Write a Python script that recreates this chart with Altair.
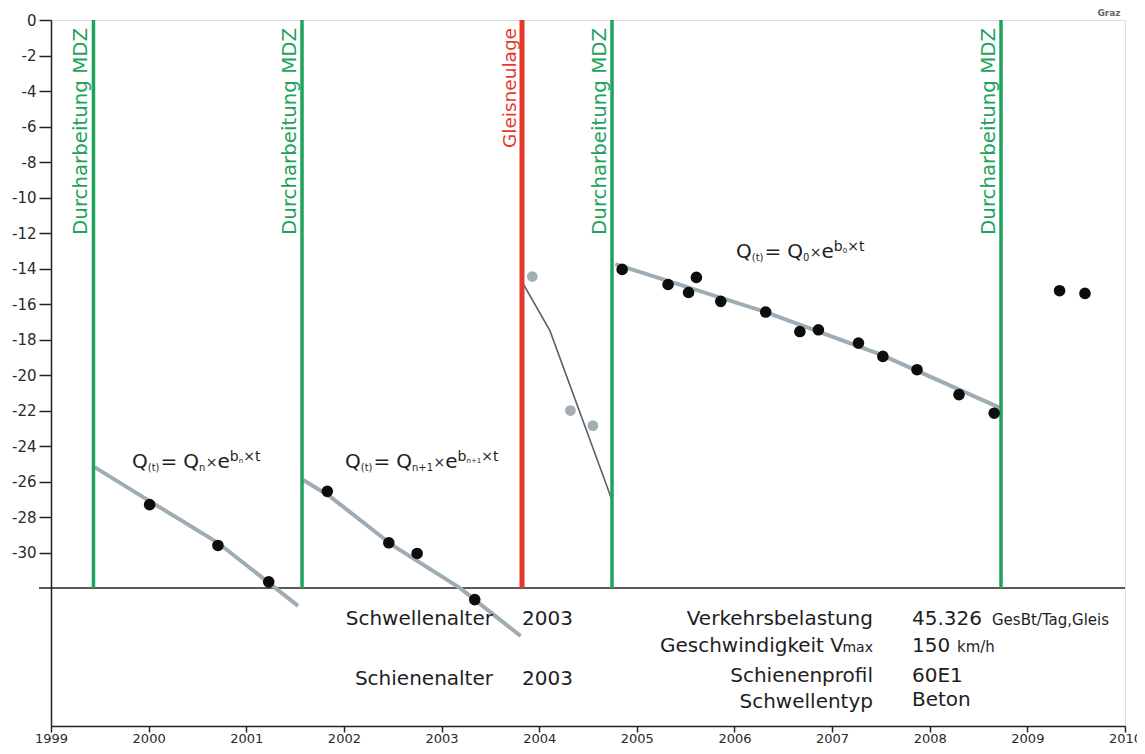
import altair as alt
import pandas as pd

# ---------------- data ----------------
event_years = [1999.435, 2001.571, 2003.824, 2004.746, 2008.730]
event_kinds = ["MDZ", "MDZ", "neu", "MDZ", "MDZ"]
event_labels = ["Durcharbeitung MDZ", "Durcharbeitung MDZ", "Gleisneulage",
                "Durcharbeitung MDZ", "Durcharbeitung MDZ"]

p1_years = [2000.01, 2000.71, 2001.23]
p1_vals = [-27.3, -29.6, -31.65]
f1_years = [1999.45, 2000.01, 2000.71, 2001.53]
f1_vals = [-25.2, -27.1, -29.45, -33.0]

p2_years = [2001.83, 2002.46, 2002.75, 2003.34]
p2_vals = [-26.55, -29.45, -30.05, -32.65]
f2_years = [2001.58, 2001.86, 2002.50, 2003.19, 2003.81]
f2_vals = [-25.9, -26.85, -29.6, -32.0, -34.7]

p3_years = [2003.93, 2004.32, 2004.55]
p3_vals = [-14.45, -22.0, -22.85]
f3_years = [2003.83, 2004.11, 2004.74]
f3_vals = [-14.8, -17.5, -26.95]

p4_years = [2004.85, 2005.32, 2005.53, 2005.61, 2005.86, 2006.32, 2006.67,
            2006.86, 2007.27, 2007.52, 2007.87, 2008.30, 2008.66]
p4_vals = [-14.05, -14.9, -15.35, -14.5, -15.85, -16.45, -17.55,
           -17.45, -18.2, -18.95, -19.7, -21.1, -22.15]
f4_years = [2004.78, 2005.55, 2006.32, 2007.50, 2008.72]
f4_vals = [-13.75, -15.1, -16.45, -18.85, -21.85]

p5_years = [2009.33, 2009.59]
p5_vals = [-15.25, -15.4]

y_ticks = list(range(0, -31, -2))
x_ticks = list(range(1999, 2011))

info_labels = ["Verkehrsbelastung", "Geschwindigkeit V", "Schienenprofil", "Schwellentyp"]
info_values = ["45.326", "150", "60E1", "Beton"]

# ---------------- layout ----------------
W, H = 1074, 706
X_DOM = [1999, 2010]
Y_DOM = [-39.77, 0]
PX_YEAR = W / (X_DOM[1] - X_DOM[0])
PX_UNIT = H / (Y_DOM[1] - Y_DOM[0])
GREEN = "#1ea35a"
RED = "#e5392b"
FIT = "#9eacb4"
INK = "#1e1e1e"
FONT = "DejaVu Sans"

xs = alt.Scale(domain=X_DOM, nice=False, zero=False)
ys = alt.Scale(domain=Y_DOM, nice=False, zero=False)
x_axis = alt.Axis(values=x_ticks, labelExpr="'' + datum.value", labelFontSize=13,
                  labelColor="#2a2a2a", tickSize=6, tickColor="#222", tickWidth=1.5,
                  domainColor="#222", domainWidth=1.5, labelPadding=0, grid=False,
                  title=None, labelFlush=False, labelOverlap=False, labelFont=FONT)
y_axis = alt.Axis(values=y_ticks, labelExpr="'' + datum.value", labelFontSize=15,
                  labelColor="#2a2a2a", tickSize=12, tickColor="#222", tickWidth=1.5,
                  domainColor="#222", domainWidth=1.5, labelPadding=3, grid=False,
                  title=None, labelFlush=False, labelOverlap=False, labelFont=FONT)


def X(field="x"):
    return alt.X(f"{field}:Q", scale=xs, axis=x_axis)


def Y(field="y"):
    return alt.Y(f"{field}:Q", scale=ys, axis=y_axis)


def df(xv, yv):
    return pd.DataFrame({"x": xv, "y": yv})


# vertical event lines
ev = pd.DataFrame({"x": event_years, "kind": event_kinds, "label": event_labels})
ev["xl"] = ev["x"] - 6 / PX_YEAR   # label baseline a few pixels left of its line
kind_color = alt.Color("kind:N", scale=alt.Scale(domain=["MDZ", "neu"], range=[GREEN, RED]), legend=None)
rules = alt.Chart(ev).mark_rule().encode(
    x=X(), y=alt.datum(0), y2=alt.datum(-32), color=kind_color,
    strokeWidth=alt.StrokeWidth("kind:N", scale=alt.Scale(domain=["MDZ", "neu"], range=[3.5, 5]), legend=None),
)
ev_text = alt.Chart(ev).mark_text(angle=270, align="right", baseline="alphabetic", font=FONT).encode(
    x=X("xl"), y=alt.datum(-0.45), text="label:N", color=kind_color,
    size=alt.Size("kind:N", scale=alt.Scale(domain=["MDZ", "neu"], range=[19.8, 18.5]), legend=None),
)

# separator line of the info panel
sep = alt.Chart(pd.DataFrame({"y": [-32]})).mark_rule(color="#222", strokeWidth=1.5).encode(
    y=Y(), x=alt.value(-12), x2=alt.value(W)
)

# fitted curves
fit_thick = alt.Chart(pd.concat([
    df(f1_years, f1_vals).assign(seg="a"),
    df(f2_years, f2_vals).assign(seg="b"),
    df(f4_years, f4_vals).assign(seg="d"),
])).mark_line(color=FIT, strokeWidth=4).encode(x=X(), y=Y(), detail="seg:N")
fit_thin = alt.Chart(df(f3_years, f3_vals)).mark_line(color="#56646c", strokeWidth=1.6).encode(x=X(), y=Y())

# measured points
black_pts = alt.Chart(pd.concat([
    df(p1_years, p1_vals), df(p2_years, p2_vals), df(p4_years, p4_vals), df(p5_years, p5_vals)
])).mark_circle(color="#0d0d0d", size=135, opacity=1).encode(x=X(), y=Y())
grey_pts = alt.Chart(df(p3_years, p3_vals)).mark_circle(color="#a3adb4", size=115, opacity=1).encode(x=X(), y=Y())


# ---------------- text annotations ----------------
def at(px, py):
    """page-pixel position of the reference -> data coordinates"""
    return X_DOM[0] + (px - 51) / PX_YEAR, -(py - 20) / PX_UNIT


right_rows, left_rows = [], []


def put(rows, text, px, py, size):
    xv, yv = at(px, py)
    rows.append({"x": xv, "y": yv, "text": text, "size": size})


put(right_rows, "Schwellenalter", 493, 625, 20)
put(right_rows, "Schienenalter", 493, 685, 20)
put(left_rows, "2003", 522, 625, 20)
put(left_rows, "2003", 522, 685, 20)

label_y = [624.5, 651.5, 682, 708]
for lab, py in zip(info_labels, label_y):
    put(right_rows, lab, 844 if lab.endswith(" V") else 873, py, 20)
put(right_rows, "max", 873, 651.5, 14)
for val, py in zip(info_values, [624.5, 651.5, 682, 706]):
    put(left_rows, val, 912, py, 20)
put(left_rows, "GesBt/Tag,Gleis", 992, 624.5, 15)
put(left_rows, "km/h", 957, 651.5, 15)

# approximate advance widths (em) of DejaVu Sans, for placing formula pieces
EM = {"Q": .787, "(": .39, "t": .392, ")": .39, "=": .838, " ": .318, "n": .634, "+": .838,
      "1": .636, "0": .636, "\u00d7": .838, "e": .615, "b": .635}


def width(txt, size):
    return sum(EM.get(c, .6) for c in txt) * size


def formula(px, py, sub):
    # Q(t)= Q_sub x e^(b_sub x t)
    parts = [("Q", 20, 0, 0), ("(t)", 10, 3, 0), ("=", 20, 0, 1), ("Q", 20, 0, 6),
             (sub, 10, 3, 0), ("\u00d7", 14, -1, 0.5), ("e", 20, 0, 0), ("b", 14, -7, 0),
             (sub, 7, -5, 0), ("\u00d7t", 14, -7, 0)]
    cx = px
    for txt, size, dy, gap in parts:
        cx += gap
        put(left_rows, txt, cx, py + dy, size)
        cx += width(txt, size)


formula(132, 468, "n")
formula(345, 468, "n+1")
formula(736, 258, "0")

txt_r = alt.Chart(pd.DataFrame(right_rows)).mark_text(align="right", baseline="alphabetic", font=FONT, color=INK).encode(
    x=X(), y=Y(), text="text:N", size=alt.Size("size:Q", scale=None))
txt_l = alt.Chart(pd.DataFrame(left_rows)).mark_text(align="left", baseline="alphabetic", font=FONT, color=INK).encode(
    x=X(), y=Y(), text="text:N", size=alt.Size("size:Q", scale=None))

logo = alt.Chart(pd.DataFrame({"t": ["Graz"]})).mark_text(
    align="center", baseline="alphabetic", font=FONT, fontSize=9, fontWeight="bold", color="#666"
).encode(x=alt.value(1058), y=alt.value(-4), text="t:N")

chart = alt.layer(
    sep, fit_thick, fit_thin, rules, ev_text, grey_pts, black_pts, txt_r, txt_l, logo
).properties(
    width=W, height=H,
    autosize=alt.AutoSizeParams(type="none"),
    padding={"left": 43, "top": 12, "right": 12, "bottom": 20},
    background="#ffffff",
).configure_view(stroke="#222", strokeWidth=1.5).configure(font=FONT)

chart.save("out.html", embed_options={"renderer": "svg", "actions": False})
